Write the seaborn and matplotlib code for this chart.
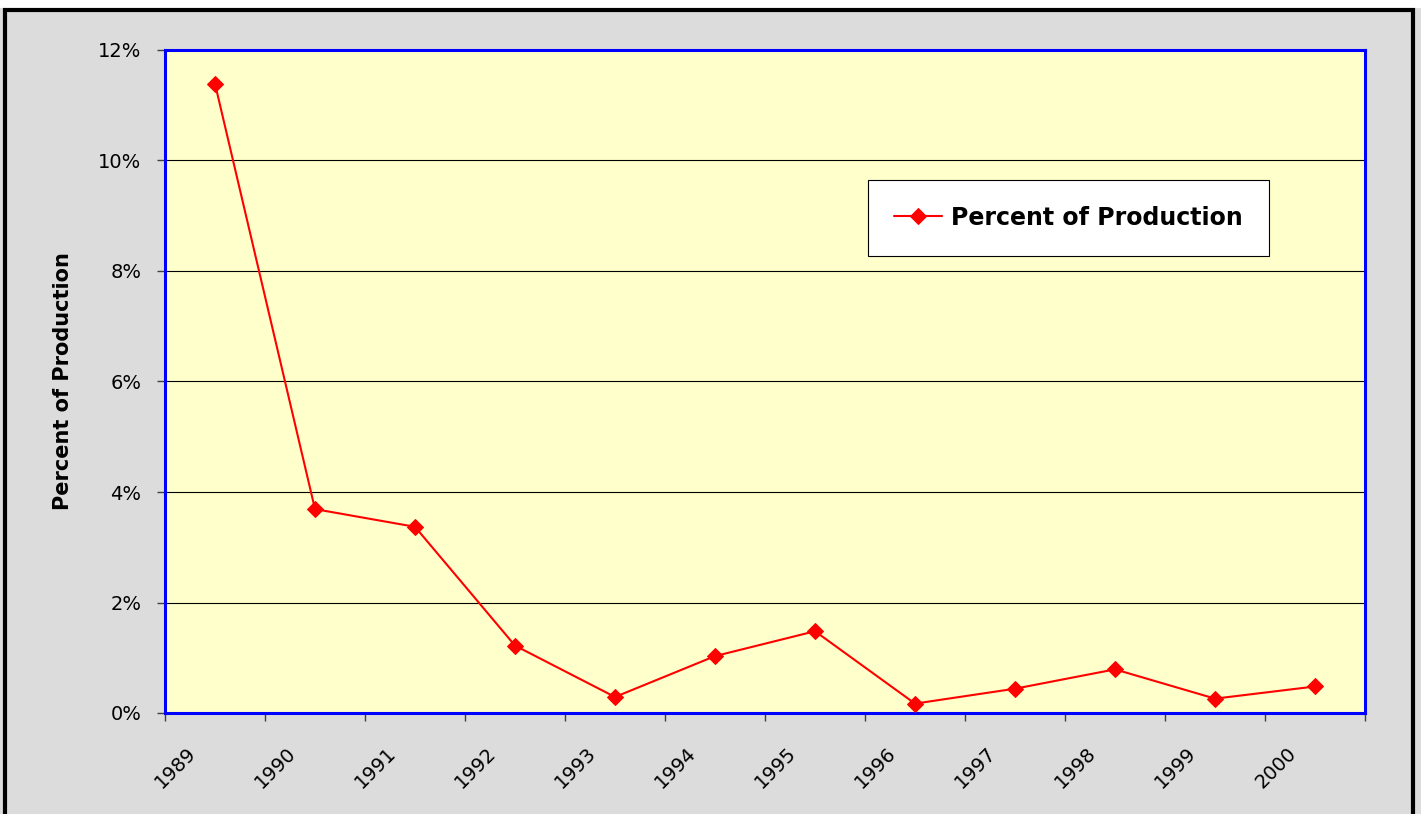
import numpy as np
import pandas as pd
import seaborn as sns
import matplotlib.pyplot as plt
from matplotlib.ticker import PercentFormatter, FixedLocator, NullFormatter
from matplotlib.transforms import ScaledTranslation
from matplotlib.patches import Rectangle

# data
years = ['1989', '1990', '1991', '1992', '1993', '1994',
         '1995', '1996', '1997', '1998', '1999', '2000']
pct = [11.39, 3.69, 3.37, 1.22, 0.29, 1.03, 1.48, 0.17, 0.44, 0.79, 0.26, 0.48]
series_name = 'Percent of Production'
y_ticks = [0, 2, 4, 6, 8, 10, 12]

df = pd.DataFrame({'pos': np.arange(len(years)), 'pct': pct})

sns.set_style('white')
plt.rcParams['font.family'] = ['DejaVu Sans']
plt.rcParams['text.color'] = 'black'
plt.rcParams['axes.labelcolor'] = 'black'
plt.rcParams['xtick.color'] = 'black'
plt.rcParams['ytick.color'] = 'black'

fig = plt.figure(figsize=(14.21, 8.14), dpi=100, facecolor='#DCDCDC')
# white strip at top and outer black frame
fig.patches.append(Rectangle((0, 1 - 8 / 814), 1, 8 / 814, transform=fig.transFigure,
                             facecolor='white', edgecolor='none', zorder=0))
fig.patches.append(Rectangle((5 / 1421, -0.05), 1408 / 1421, 1.05 - 10 / 814,
                             transform=fig.transFigure, facecolor='none',
                             edgecolor='black', lw=3, zorder=1))

ax = fig.add_axes([165 / 1421, 101 / 814, 1200 / 1421, 663 / 814])
ax.set_facecolor('#FFFFCC')

sns.lineplot(data=df, x='pos', y='pct', ax=ax, color='#FF0000', lw=1.5,
             marker='D', markersize=8.5, markeredgecolor='#FF0000',
             label=series_name, zorder=3)

ax.set_xlim(-0.5, len(years) - 0.5)
ax.set_ylim(0, 12)

# y axis
ax.set_yticks(y_ticks)
ax.yaxis.set_major_formatter(PercentFormatter(decimals=0))
ax.yaxis.grid(True, color='black', lw=0.8)
ax.set_axisbelow(True)
ax.tick_params(axis='y', which='major', left=True, length=6, width=1,
               color='#404040', pad=11, labelsize=14)
ax.set_ylabel(series_name, fontsize=15, fontweight='bold')
ax.yaxis.set_label_coords(-0.0767, 0.5)

# x axis: ticks at boundaries, labels at category centres
ax.xaxis.set_major_locator(FixedLocator(np.arange(-0.5, len(years), 1.0)))
ax.xaxis.set_major_formatter(NullFormatter())
ax.xaxis.set_minor_locator(FixedLocator(np.arange(len(years))))
ax.set_xticks(np.arange(len(years)), years, minor=True)
ax.tick_params(axis='x', which='major', bottom=True, length=6, width=1, color='#404040')
ax.tick_params(axis='x', which='minor', bottom=True, length=0, pad=0, labelsize=14)
offset = ScaledTranslation(-0.22, -0.37, fig.dpi_scale_trans)
for lab in ax.get_xticklabels(minor=True):
    lab.set_rotation(45)
    lab.set_rotation_mode('anchor')
    lab.set_ha('right')
    lab.set_va('center')
    lab.set_transform(lab.get_transform() + offset)
ax.set_xlabel('')

for sp in ax.spines.values():
    sp.set_visible(True)
    sp.set_color('#0000FF')
    sp.set_linewidth(2.2)

leg = ax.legend(loc='center', bbox_to_anchor=(0.753, 0.747), frameon=True,
                fancybox=False, framealpha=1, facecolor='white', edgecolor='black',
                prop={'size': 17, 'weight': 'bold'}, borderpad=1.1,
                handlelength=2.0, handletextpad=0.4)
leg.get_frame().set_linewidth(0.8)
for t in leg.get_texts():
    t.set_color('black')

fig.savefig('out.png', dpi=100, facecolor=fig.get_facecolor())
